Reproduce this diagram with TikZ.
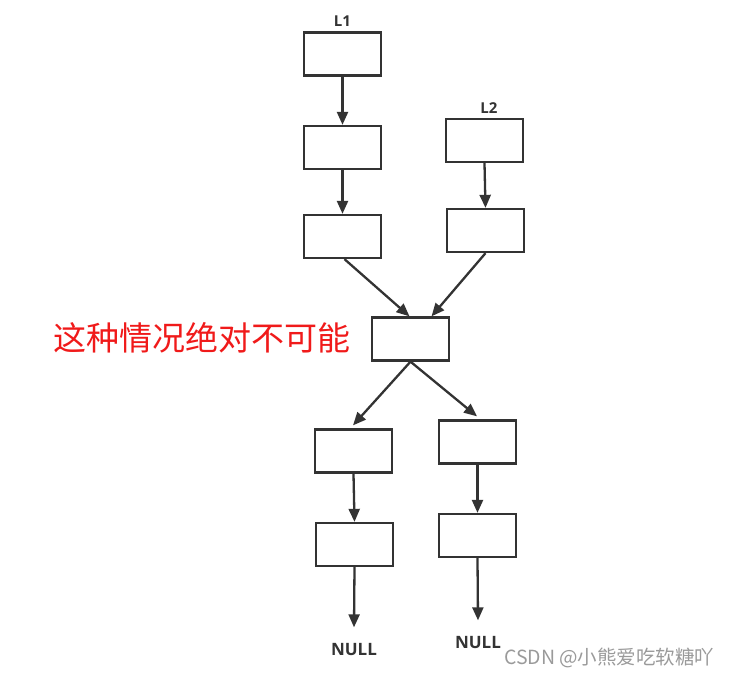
\documentclass[tikz,border=0pt]{standalone}
\usepackage{fontspec}
\setsansfont{Open Sans}
\newfontfamily\cjk{Noto Sans CJK SC}
\usetikzlibrary{arrows.meta, positioning}
\definecolor{lineGray}{HTML}{333333}
\definecolor{noteRed}{HTML}{F01A1A}
\definecolor{markGray}{HTML}{9A9A9A}

\begin{document}
\begin{tikzpicture}[x=1pt, y=-1pt,
    box/.style={rectangle, draw=lineGray, line width=2.3pt, fill=white,
                minimum width=77pt, minimum height=43pt, inner sep=0pt},
    arr/.style={draw=lineGray, line width=2.3pt,
                -{Triangle[length=13pt, width=11pt]}},
    tag/.style={font=\sffamily\bfseries\fontsize{15}{17}\selectfont, text=lineGray},
    nul/.style={font=\sffamily\bfseries\fontsize{17}{19}\selectfont, text=lineGray},
  ]
    \useasboundingbox (0,0) rectangle (732,678);
    % list L1
    \node[box] (a1) at (342.5,54) {};
    \node[box] (a2) at (342.5,147.5) {};
    \node[box] (a3) at (342.5,236.5) {};
    \node[tag] (l1) at (342.5,21) {L1};
    % list L2
    \node[box] (b1) at (484.5,140.5) {};
    \node[box] (b2) at (485.5,230.5) {};
    \node[tag] (l2) at (489,108) {L2};
    % merge node
    \node[box] (m) at (410.5,339) {};
    % branches
    \node[box] (c1) at (353.5,451) {};
    \node[box] (c2) at (354.5,544.5) {};
    \node[box] (d1) at (477.5,442) {};
    \node[box] (d2) at (477.5,535.5) {};
    \node[nul] (n1) at (354,650) {NULL};
    \node[nul] (n2) at (478,643) {NULL};

    \draw[arr] (a1.south) -- (a2.north);
    \draw[arr] (a2.south) -- (a3.north);
    \draw[arr] (b1.south) -- (b2.north);
    \draw[arr] ([xshift=2pt]a3.south) -- ([xshift=-1pt]m.north);
    \draw[arr] (b2.south) -- ([xshift=21pt]m.north);
    \draw[arr] (m.south) -- ([xshift=-0.5pt,yshift=3pt]c1.north);
    \draw[arr] (m.south) -- ([xshift=-0.5pt,yshift=3pt]d1.north);
    \draw[arr] (c1.south) -- (c2.north);
    \draw[arr] (d1.south) -- (d2.north);
    \draw[arr] (c2.south) -- ([yshift=13pt]n1.north);
    \draw[arr] (d2.south) -- ([yshift=13pt]n2.north);

    \node[font=\cjk\fontsize{33}{35}\selectfont, text=noteRed, anchor=west]
      (note) at (50,338) {这种情况绝对不可能};
    \node[font=\cjk\fontsize{19.5}{21}\selectfont, text=markGray, anchor=east]
      (wm) at (718,658) {CSDN @小熊爱吃软糖吖};
  \end{tikzpicture}
\end{document}
